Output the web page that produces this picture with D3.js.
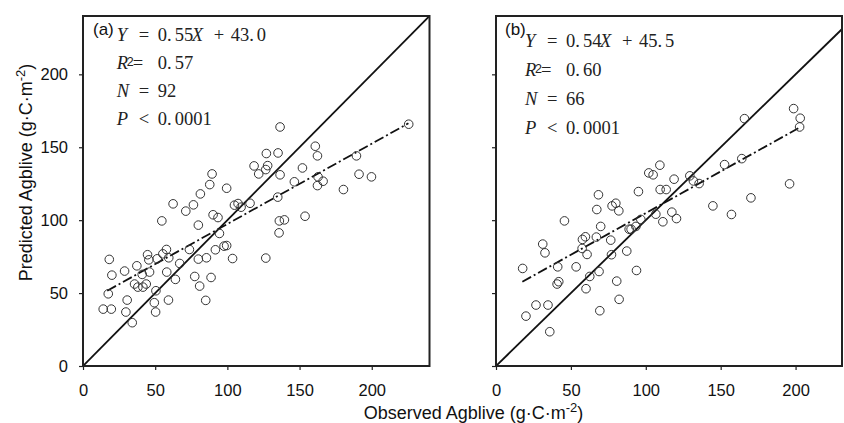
<!DOCTYPE html>
<html><head><meta charset="utf-8">
<script src="https://cdn.jsdelivr.net/npm/d3@7"></script>
<style>body{margin:0;background:#fff}</style>
</head><body><svg id="c" width="844" height="423"></svg>
<script>
// ---- data ----
const obsA = [14.0,19.6,18.2,20.0,17.5,28.8,30.6,29.7,34.1,37.3,35.7,38.0,41.0,41.5,43.8,44.7,45.6,46.1,50.5,49.4,50.3,51.4,54.6,55.3,57.8,59.4,58.0,59.2,62.4,64.0,67.0,71.2,73.7,76.5,77.4,79.9,79.9,80.8,81.3,85.5,85.0,87.8,89.4,88.7,90.1,91.7,93.5,94.5,97.7,99.5,99.5,103.6,104.9,107.4,109.5,115.7,118.5,121.7,127.0,127.9,126.6,126.6,134.9,135.1,136.5,136.5,136.0,135.8,139.5,146.4,152.0,153.8,160.9,162.4,162.8,162.4,166.3,180.4,189.4,191.2,199.8,225.6];
const predA = [39.0,39.0,73.1,62.3,49.5,65.1,45.2,37.0,29.7,68.7,56.2,54.1,62.8,54.1,56.2,76.3,72.8,64.4,51.6,43.4,37.0,73.5,99.5,76.9,79.9,74.2,64.4,45.2,111.2,59.4,70.3,106.2,79.9,110.5,61.4,96.6,73.3,54.8,118.0,74.2,45.0,124.4,131.7,60.7,103.7,79.7,101.8,90.9,82.2,82.6,121.9,73.7,110.3,111.4,108.9,111.6,137.2,131.7,145.7,137.4,134.7,74.0,115.8,146.1,163.9,131.1,99.5,91.3,100.2,126.3,135.8,102.7,150.7,144.1,129.7,123.7,126.7,121.0,144.1,131.5,129.7,165.8];
const obsB = [17.8,20.0,26.7,34.7,35.9,31.2,32.7,41.2,40.8,41.9,45.7,53.5,57.7,59.7,57.5,60.8,60.1,62.6,67.0,67.3,68.4,69.9,68.8,69.3,76.6,77.1,77.5,80.0,82.0,80.6,82.2,87.3,88.9,90.2,93.8,93.4,95.1,96.7,102.0,104.9,109.4,109.6,113.6,106.7,111.4,117.4,118.9,120.5,129.4,131.8,135.6,144.8,152.6,157.2,164.1,165.9,170.2,196.0,198.7,203.1,202.7];
const predB = [66.9,34.2,41.8,41.8,23.5,83.6,77.6,68.0,56.2,57.8,99.5,68.0,86.8,88.6,80.6,76.5,53.0,61.4,88.4,107.3,117.4,95.7,64.8,37.9,86.3,76.3,109.8,111.6,106.4,58.2,45.7,78.8,93.8,93.8,65.5,95.7,119.6,100.5,132.4,131.1,137.7,121.0,121.0,104.1,98.9,105.5,128.1,101.1,130.4,126.9,125.1,109.8,138.1,103.9,142.2,169.6,115.3,124.9,176.5,169.9,163.9];
const fitAx = [16.8, 225.4], fitAy = [51.6, 166.4];
const fitBx = [17.6, 201.8], fitBy = [57.8, 163.0];
const xTicks = [0, 50, 100, 150, 200];
const yTicks = [0, 50, 100, 150, 200];
const panelTags = ["(a)", "(b)"];
const slopes = ["0.55", "0.54"], intercepts = ["43.0", "45.5"];
const r2s = ["0.57", "0.60"], ns = ["92", "66"], pvals = ["0.0001", "0.0001"];
const xTitle = "Observed Agblive (g\u00B7C\u00B7m", yTitle = "Predicted Agblive (g\u00B7C\u00B7m", unitSup = "-2";

// ---- layout ----
const svg = d3.select("#c");
const yTop = 16, yBot = 366;
const panels = [
  {x0: 83, x1: 429.5, xmax: 240, obs: obsA, pred: predA, fx: fitAx, fy: fitAy, yLabels: true, tdy: 0, tx: 116.7, tagX: 93},
  {x0: 496, x1: 842, xmax: 231, obs: obsB, pred: predB, fx: fitBx, fy: fitBy, yLabels: false, tdy: 6, tx: 525, tagX: 505}
];
const sans = "'Liberation Sans', Arial, sans-serif";
const serif = "'Liberation Serif', 'Times New Roman', serif";

panels.forEach((p, i) => {
  const x = d3.scaleLinear().domain([0, p.xmax]).range([p.x0, p.x1]);
  const y = d3.scaleLinear().domain([0, 240]).range([yBot, yTop]);
  const g = svg.append("g");
  const clipId = "clip" + i;
  svg.append("clipPath").attr("id", clipId).append("rect")
    .attr("x", p.x0).attr("y", yTop).attr("width", p.x1 - p.x0).attr("height", yBot - yTop);

  const xa = g.append("g").attr("transform", `translate(0,${yBot})`)
    .call(d3.axisBottom(x).tickValues(xTicks).tickSize(4).tickPadding(14));
  const ya = g.append("g").attr("transform", `translate(${p.x0},0)`)
    .call(d3.axisLeft(y).tickValues(yTicks).tickSize(4).tickPadding(11)
      .tickFormat(p.yLabels ? d3.format("d") : () => ""));
  [xa, ya].forEach(a => {
    a.select(".domain").remove();
    a.selectAll("line").attr("stroke", "#222").attr("stroke-width", 1.2);
    a.selectAll("text").attr("font-family", sans).attr("font-size", 16.5).attr("fill", "#111");
  });

  const plot = g.append("g").attr("clip-path", `url(#${clipId})`);
  plot.append("line").attr("x1", x(0)).attr("y1", y(0)).attr("x2", x(240)).attr("y2", y(240))
    .attr("stroke", "#111").attr("stroke-width", 1.8);
  plot.append("line").attr("x1", x(p.fx[0])).attr("y1", y(p.fy[0])).attr("x2", x(p.fx[1])).attr("y2", y(p.fy[1]))
    .attr("stroke", "#111").attr("stroke-width", 1.8).attr("stroke-dasharray", "10,3,2,3");
  plot.selectAll("circle").data(p.obs.map((v, k) => [v, p.pred[k]])).enter().append("circle")
    .attr("cx", d => x(d[0])).attr("cy", d => y(d[1])).attr("r", 4.3)
    .attr("fill", "none").attr("stroke", "#333").attr("stroke-width", 1);

  g.append("rect").attr("x", p.x0).attr("y", yTop).attr("width", p.x1 - p.x0).attr("height", yBot - yTop)
    .attr("fill", "none").attr("stroke", "#222").attr("stroke-width", 2);

  g.append("text").attr("x", p.tagX).attr("y", 35).attr("font-family", sans).attr("font-size", 17)
    .attr("fill", "#111").text(panelTags[i]);

  const fs = 18.5;
  const line = (base, tokens) => {
    const t = g.append("text").attr("y", base).attr("font-family", serif).attr("font-size", fs).attr("fill", "#222");
    tokens.forEach(tk => {
      const s = t.append("tspan").attr("x", p.tx + tk[1]).text(tk[0]);
      if (tk[2]) s.attr("font-style", "italic");
    });
    return t;
  };
  const sl = slopes[i].split("."), ic = intercepts[i].split(".");
  line(41 + p.tdy, [["Y", 0, true], ["=", 22], ["0.", 41], [sl[1], 58], ["X", 75, true], ["+", 97], [ic[0] + ".", 114], [ic[1], 140]]);
  const b2 = 69 + p.tdy + (i ? 1 : 0);
  line(b2, [["R", 0, true], ["=", 16], [r2s[i].split(".")[0] + ".", 41], [r2s[i].split(".")[1], 58]]);
  g.append("text").attr("x", p.tx + 10).attr("y", b2 - 3).attr("font-family", sans)
    .attr("font-size", 12.5).attr("fill", "#222").text("2");
  line(97 + p.tdy + (i ? 2 : 0), [["N", 0, true], ["=", 22], [ns[i], 41]]);
  line(125 + p.tdy + (i ? 3 : 0), [["P", 0, true], ["<", 22], [pvals[i].split(".")[0] + ".", 41], [pvals[i].split(".")[1], 58]]);
});

const xt = svg.append("text").attr("x", 473.5).attr("y", 419).attr("text-anchor", "middle")
  .attr("font-family", sans).attr("font-size", 18).attr("fill", "#111");
xt.append("tspan").text(xTitle);
xt.append("tspan").attr("font-size", 13).attr("dy", -7).text(unitSup);
xt.append("tspan").attr("dy", 7).text(")");

const yt = svg.append("text").attr("transform", "translate(31.5,172.5) rotate(-90)").attr("text-anchor", "middle")
  .attr("font-family", sans).attr("font-size", 18).attr("fill", "#111");
yt.append("tspan").text(yTitle);
yt.append("tspan").attr("font-size", 13).attr("dy", -7).text(unitSup);
yt.append("tspan").attr("dy", 7).text(")");
</script>
</body></html>
